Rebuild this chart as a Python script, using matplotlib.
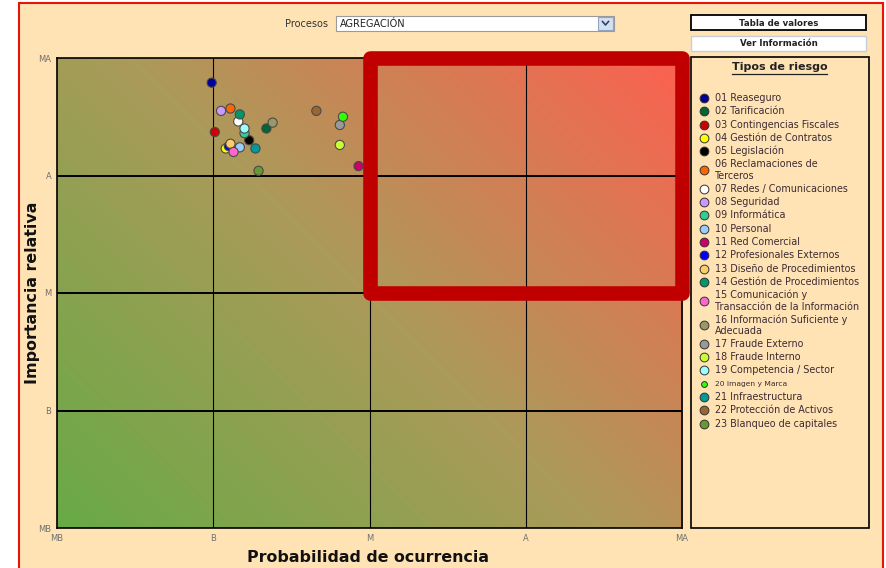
import numpy as np
import matplotlib
matplotlib.use("Agg")
import matplotlib.pyplot as plt
from matplotlib.patches import Rectangle

W, H = 886, 568

# niveles de la matriz
levels = ["MB", "B", "M", "A", "MA"]

risk_types = [
    "01 Reaseguro", "02 Tarificación", "03 Contingencias Fiscales",
    "04 Gestión de Contratos", "05 Legislación", "06 Reclamaciones de\nTerceros",
    "07 Redes / Comunicaciones", "08 Seguridad", "09 Informática", "10 Personal",
    "11 Red Comercial", "12 Profesionales Externos", "13 Diseño de Procedimientos",
    "14 Gestión de Procedimientos", "15 Comunicación y\nTransacción de la Información",
    "16 Información Suficiente y\nAdecuada", "17 Fraude Externo", "18 Fraude Interno",
    "19 Competencia / Sector", "20 Imagen y Marca", "21 Infraestructura",
    "22 Protección de Activos", "23 Blanqueo de capitales",
]
risk_colors = [
    "#000099", "#006633", "#CC0000", "#FFFF00", "#000000", "#FF6600",
    "#FFFFFF", "#CC99FF", "#33CC99", "#99CCFF", "#CC0066", "#0000FF",
    "#FFCC66", "#009966", "#FF66CC", "#999966", "#999999", "#CCFF33",
    "#99FFFF", "#33FF00", "#009999", "#996633", "#669933",
]
# probabilidad (x) e importancia (y) en escala 0=MB .. 4=MA
probabilidad = [0.99, 1.34, 1.01, 1.08, 1.23, 1.11, 1.16, 1.05, 1.20, 1.17, 1.93, 1.10,
                1.11, 1.17, 1.13, 1.38, 1.81, 1.81, 1.20, 1.83, 1.27, 1.66, 1.29]
importancia = [3.79, 3.40, 3.37, 3.23, 3.30, 3.57, 3.46, 3.55, 3.36, 3.24, 3.08, 3.25,
               3.27, 3.52, 3.20, 3.45, 3.43, 3.26, 3.40, 3.50, 3.23, 3.55, 3.04]

page_bg = "#FFE3B4"
txt_col = "#3b2a33"

fig = plt.figure(figsize=(W / 100, H / 100), dpi=100, facecolor="white")

# background "page" axes in pixel coords
bg = fig.add_axes([0, 0, 1, 1])
bg.set_xlim(0, W)
bg.set_ylim(H, 0)
bg.axis("off")
bg.set_zorder(0)
bg.add_patch(Rectangle((19, 3), 864, 580, facecolor=page_bg, edgecolor="#E8140A", lw=1.5))

# process selector
bg.text(328, 24, "Procesos", ha="right", va="center", fontsize=7, color="#333333")
bg.add_patch(Rectangle((336, 16), 278, 15, facecolor="white", edgecolor="#9a9a9a", lw=0.8))
bg.add_patch(Rectangle((598, 17), 15, 13, facecolor="#D3E0F2", edgecolor="#8FA5C4", lw=0.8))
bg.plot([602.5, 605.5, 608.5], [21.5, 25, 21.5], color="#334466", lw=1.2)
bg.text(340, 24, "AGREGACIÓN", ha="left", va="center", fontsize=7, color="#222222")

# buttons
bg.add_patch(Rectangle((691, 15), 175, 15, facecolor="white", edgecolor="black", lw=1.3))
bg.text(778.5, 23, "Tabla de valores", ha="center", va="center", fontsize=6.2,
        fontweight="bold", color="#222222")
bg.add_patch(Rectangle((691, 36), 175, 15, facecolor="white", edgecolor="#C8CED8", lw=1))
bg.text(778.5, 43.5, "Ver Información", ha="center", va="center", fontsize=6.2,
        fontweight="bold", color="#222222")

# legend box
bg.add_patch(Rectangle((691, 57), 178, 471, facecolor="none", edgecolor="black", lw=1.2))
title = bg.text(779.5, 67, "Tipos de riesgo", ha="center", va="center", fontsize=8,
                fontweight="bold", color="#222222")
y = 98.0
for i, (name, col) in enumerate(zip(risk_types, risk_colors)):
    nlines = name.count("\n") + 1
    yc = y + (nlines - 1) * 11 / 2
    small = name.startswith("20 ")
    bg.scatter([704], [yc], s=18 if small else 40, color=col, edgecolors="#333333",
               linewidths=0.7, zorder=3)
    bg.text(715, yc, name, ha="left", va="center", fontsize=5.4 if small else 6.9,
            color=txt_col, linespacing=1.15)
    y += 13.3 + (nlines - 1) * 11

# axis titles
bg.text(368, 557, "Probabilidad de ocurrencia", ha="center", va="center",
        fontsize=11.4, fontweight="bold", color="#111111")
bg.text(33, 293, "Importancia relativa", ha="center", va="center", rotation=90,
        fontsize=11.4, fontweight="bold", color="#111111")

# main matrix
ax = fig.add_axes([57 / W, 1 - 528 / H, 625 / W, 470 / H])
ax.set_zorder(2)

ny, nx = 470, 625
yy, xx = np.mgrid[0:ny, 0:nx]
t = (xx + yy) / (nx + ny - 2)
stops = [0.0, 0.5, 1.0]
cols = np.array([[104, 170, 70], [172, 154, 90], [253, 96, 80]]) / 255.0
img = np.dstack([np.interp(t, stops, cols[:, k]) for k in range(3)])
ax.imshow(img, extent=[0, 4, 0, 4], origin="lower", aspect="auto", zorder=0,
          interpolation="bilinear")

for v in range(1, 4):
    ax.axhline(v, color="black", lw=1.4, zorder=1)
    ax.axvline(v, color="black", lw=0.8, zorder=1)

ax.scatter(probabilidad, importancia, s=44, c=risk_colors, edgecolors="#4a4a4a",
           linewidths=0.8, zorder=3)

ax.add_patch(Rectangle((2, 2), 2, 2, fill=False, edgecolor="#C00000", lw=10.5,
                       joinstyle="round", clip_on=False, zorder=5))

ax.set_xlim(0, 4)
ax.set_ylim(0, 4)
ax.set_xticks(range(5))
ax.set_xticklabels(levels)
ax.set_yticks(range(5))
ax.set_yticklabels(levels)
ax.tick_params(length=0, labelsize=6, labelcolor="#707070", pad=4)
for s in ax.spines.values():
    s.set_linewidth(1.2)
    s.set_color("black")

# underline legend title
fig.canvas.draw()
bb = title.get_window_extent()
inv = bg.transData.inverted()
(x0, _), (x1, _) = inv.transform([[bb.x0, bb.y0], [bb.x1, bb.y1]])
bg.plot([x0, x1], [73.5, 73.5], color="#222222", lw=0.9)

fig.savefig("out.png", dpi=100)
